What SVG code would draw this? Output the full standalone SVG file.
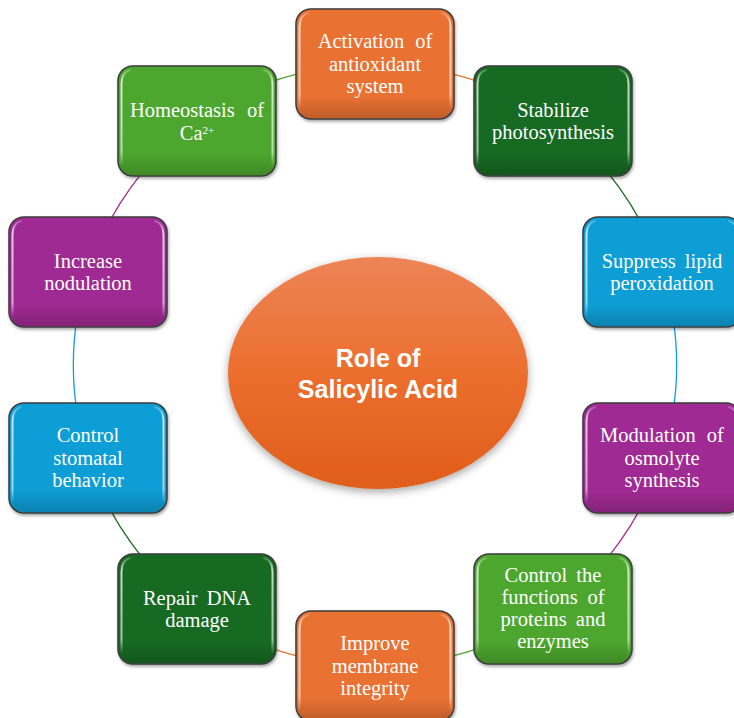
<svg xmlns="http://www.w3.org/2000/svg" width="734" height="718" viewBox="0 0 734 718">
<defs>
<style>
.box{stroke:#3b3b3b;stroke-width:1.5}
.sd{fill:url(#sdg);stroke:none}
.hl{stroke:url(#hlg);stroke-width:2;fill:none;stroke-linecap:round}
.t{font-family:"Liberation Serif","Times New Roman",serif;font-size:20.5px;fill:#ffffff;text-anchor:middle}
.c{fill:none;stroke-width:1.3}
.ct{font-family:"Liberation Sans",Arial,sans-serif;font-weight:bold;font-size:25px;fill:#ffffff;text-anchor:middle}
.or{fill:#E97132}.dg{fill:#196B24}.bl{fill:#0F9ED5}.pu{fill:#A02B93}.gr{fill:#4EA72E}
</style>
<linearGradient id="hlg" x1="0" y1="0" x2="0" y2="1">
<stop offset="0" stop-color="#fff" stop-opacity="0.2"/>
<stop offset="0.12" stop-color="#fff" stop-opacity="0.75"/>
<stop offset="0.85" stop-color="#fff" stop-opacity="0.6"/>
<stop offset="1" stop-color="#fff" stop-opacity="0"/>
</linearGradient>
<linearGradient id="sdg" x1="0" y1="0" x2="0" y2="1">
<stop offset="0.8" stop-color="#000" stop-opacity="0"/>
<stop offset="1" stop-color="#000" stop-opacity="0.18"/>
</linearGradient>
<linearGradient id="eg" x1="0" y1="0" x2="0" y2="1">
<stop offset="0" stop-color="#EC8556"/>
<stop offset="0.5" stop-color="#EC6E2E"/>
<stop offset="1" stop-color="#E05E1A"/>
</linearGradient>
<filter id="sh" x="-10%" y="-10%" width="125%" height="130%">
<feDropShadow dx="1" dy="2" stdDeviation="1.5" flood-color="#000" flood-opacity="0.35"/>
</filter>
<filter id="esh" x="-10%" y="-10%" width="120%" height="125%">
<feDropShadow dx="0" dy="3" stdDeviation="4" flood-color="#000" flood-opacity="0.35"/>
</filter>
<g id="gloss">
<rect class="sd" x="1" y="1" width="156" height="108" rx="14"/>
<path class="hl" d="M3.5,100 V18 Q3.5,6 12,4"/>
<path class="hl" d="M154.5,100 V18 Q154.5,6 146,4"/>
</g>
</defs>
<rect width="734" height="718" fill="#ffffff"/>

<g id="connectors">
<path class="c" stroke="#E97132" d="M375,64 A302,302 0 0 1 553,121"/>
<path class="c" stroke="#196B24" d="M553,121 A302,302 0 0 1 662,272"/>
<path class="c" stroke="#0F9ED5" d="M662,272 A302,302 0 0 1 662,458"/>
<path class="c" stroke="#A02B93" d="M662,458 A302,302 0 0 1 553,609"/>
<path class="c" stroke="#4EA72E" d="M553,609 A302,302 0 0 1 375,666"/>
<path class="c" stroke="#E97132" d="M375,666 A302,302 0 0 1 197,609"/>
<path class="c" stroke="#196B24" d="M197,609 A302,302 0 0 1 88,458"/>
<path class="c" stroke="#0F9ED5" d="M88,458 A302,302 0 0 1 88,272"/>
<path class="c" stroke="#A02B93" d="M88,272 A302,302 0 0 1 197,121"/>
<path class="c" stroke="#4EA72E" d="M197,121 A302,302 0 0 1 375,64"/>
</g>

<g id="center">
<ellipse cx="378" cy="373" rx="150" ry="116" fill="url(#eg)" filter="url(#esh)"/>
<text class="ct" x="378" y="367">Role of</text>
<text class="ct" x="378" y="398">Salicylic Acid</text>
</g>

<g id="n-activation" transform="translate(296,9)">
<rect class="box or" width="158" height="110" rx="15" filter="url(#sh)"/>
<use href="#gloss"/>
<text class="t" x="79" y="39" style="word-spacing:6px">Activation of</text>
<text class="t" x="79" y="62">antioxidant</text>
<text class="t" x="79" y="84">system</text>
</g>

<g id="n-stabilize" transform="translate(474,66)">
<rect class="box dg" width="158" height="110" rx="15" filter="url(#sh)"/>
<use href="#gloss"/>
<text class="t" x="79" y="51">Stabilize</text>
<text class="t" x="79" y="73">photosynthesis</text>
</g>

<g id="n-suppress" transform="translate(583,217)">
<rect class="box bl" width="158" height="110" rx="15" filter="url(#sh)"/>
<use href="#gloss"/>
<text class="t" x="79" y="51" style="word-spacing:4px">Suppress lipid</text>
<text class="t" x="79" y="73">peroxidation</text>
</g>

<g id="n-modulation" transform="translate(583,403)">
<rect class="box pu" width="158" height="110" rx="15" filter="url(#sh)"/>
<use href="#gloss"/>
<text class="t" x="79" y="39" style="word-spacing:6px">Modulation of</text>
<text class="t" x="79" y="62">osmolyte</text>
<text class="t" x="79" y="84">synthesis</text>
</g>

<g id="n-proteins" transform="translate(474,554)">
<rect class="box gr" width="158" height="110" rx="15" filter="url(#sh)"/>
<use href="#gloss"/>
<text class="t" x="79" y="28" style="word-spacing:4px">Control the</text>
<text class="t" x="79" y="50" style="word-spacing:4.5px">functions of</text>
<text class="t" x="79" y="72" style="word-spacing:4px">proteins and</text>
<text class="t" x="79" y="94">enzymes</text>
</g>

<g id="n-membrane" transform="translate(296,611)">
<rect class="box or" width="158" height="110" rx="15" filter="url(#sh)"/>
<use href="#gloss"/>
<text class="t" x="79" y="39">Improve</text>
<text class="t" x="79" y="62">membrane</text>
<text class="t" x="79" y="84">integrity</text>
</g>

<g id="n-dna" transform="translate(118,554)">
<rect class="box dg" width="158" height="110" rx="15" filter="url(#sh)"/>
<use href="#gloss"/>
<text class="t" x="79" y="51" style="word-spacing:4px">Repair DNA</text>
<text class="t" x="79" y="73">damage</text>
</g>

<g id="n-stomatal" transform="translate(9,403)">
<rect class="box bl" width="158" height="110" rx="15" filter="url(#sh)"/>
<use href="#gloss"/>
<text class="t" x="79" y="39">Control</text>
<text class="t" x="79" y="62">stomatal</text>
<text class="t" x="79" y="84">behavior</text>
</g>

<g id="n-nodulation" transform="translate(9,217)">
<rect class="box pu" width="158" height="110" rx="15" filter="url(#sh)"/>
<use href="#gloss"/>
<text class="t" x="79" y="51">Increase</text>
<text class="t" x="79" y="73">nodulation</text>
</g>

<g id="n-calcium" transform="translate(118,66)">
<rect class="box gr" width="158" height="110" rx="15" filter="url(#sh)"/>
<use href="#gloss"/>
<text class="t" x="79" y="51" style="word-spacing:7px">Homeostasis of</text>
<text class="t" x="79" y="74">Ca<tspan font-size="11" dy="-6">2+</tspan></text>
</g>
</svg>
